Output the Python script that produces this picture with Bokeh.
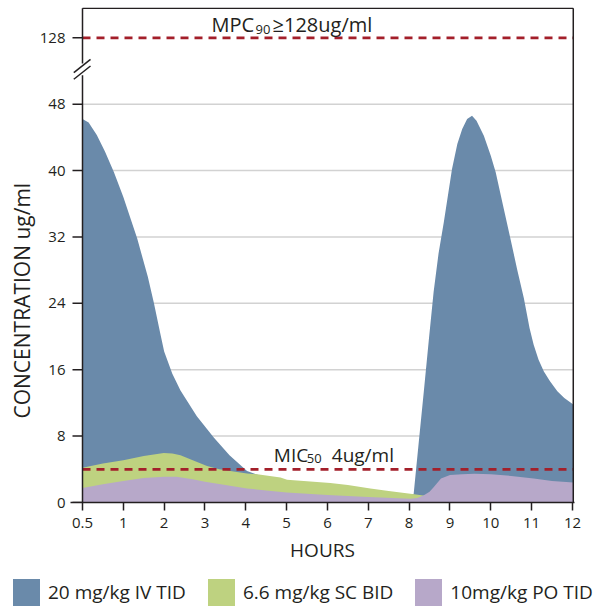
from bokeh.plotting import figure
from bokeh.layouts import column
from bokeh.models import Range1d, FixedTicker, Label, Arrow, Title, Div
from bokeh.embed import file_html
from bokeh.resources import INLINE

# ---------------- data (x in axis positions: 0 -> "0.5" h, 1..12 -> hours) ----------
x_tick_pos = [0, 1, 2, 3, 4, 5, 6, 7, 8, 9, 10, 11, 12]
x_tick_labels = ["0.5", "1", "2", "3", "4", "5", "6", "7", "8", "9", "10", "11", "12"]
y_tick_pos = [0, 8, 16, 24, 32, 40, 48, 56]
y_tick_labels = ["0", "8", "16", "24", "32", "40", "48", "128"]
y_grid_pos = [8, 16, 24, 32, 40, 48]

iv_t = [0.00, 0.15, 0.35, 0.55, 0.77, 1.00, 1.34, 1.60, 1.75, 1.90, 2.00, 2.20,
        2.40, 2.80, 3.22, 3.60, 4.03, 4.30, 4.60, 5.00, 6.00, 7.00, 8.00, 8.11,
        8.23, 8.36, 8.48, 8.60, 8.72, 8.85, 9.05, 9.18, 9.30, 9.42, 9.54, 9.65,
        9.83, 10.00, 10.12, 10.30, 10.48, 10.65, 10.81, 10.95, 11.05, 11.17,
        11.30, 11.45, 11.63, 11.80, 12.02]
iv_c = [46.2, 45.8, 44.3, 42.3, 39.8, 36.8, 31.8, 27.2, 24.0, 20.5, 18.2, 15.5,
        13.5, 10.4, 7.8, 5.7, 3.8, 3.3, 3.0, 2.6, 1.9, 1.3, 0.9, 1.0,
        7.0, 13.4, 19.5, 25.4, 30.0, 33.8, 40.2, 43.2, 45.0, 46.2, 46.6, 46.0,
        44.2, 41.8, 39.8, 35.8, 31.8, 28.0, 24.6, 21.0, 19.0, 17.2,
        15.8, 14.6, 13.4, 12.6, 11.8]

sc_t = [0.00, 0.50, 1.00, 1.50, 1.99, 2.20, 2.40, 2.70, 3.05, 3.35, 3.62, 4.03,
        4.28, 4.85, 5.01, 5.50, 6.07, 6.50, 7.05, 7.50, 8.03, 8.35, 9.00, 10.00,
        11.00, 12.02]
sc_c = [4.2, 4.7, 5.1, 5.6, 5.95, 5.9, 5.7, 5.1, 4.4, 4.0, 3.8, 3.5,
        3.4, 3.0, 2.75, 2.55, 2.35, 2.1, 1.7, 1.4, 1.05, 0.85, 0.6, 0.4,
        0.3, 0.25]

po_t = [0.00, 0.50, 1.00, 1.50, 2.00, 2.30, 2.70, 3.00, 3.50, 4.03, 4.50, 5.00,
        6.00, 7.00, 8.03, 8.20, 8.35, 8.50, 8.60, 8.78, 9.00, 9.30, 9.60, 10.00,
        10.50, 11.05, 11.50, 12.02]
po_c = [1.75, 2.2, 2.6, 2.95, 3.1, 3.1, 2.8, 2.5, 2.1, 1.7, 1.45, 1.2,
        0.9, 0.65, 0.45, 0.55, 0.85, 1.3, 1.85, 2.9, 3.3, 3.4, 3.45, 3.4,
        3.2, 2.9, 2.6, 2.4]

mic_level = 4
mpc_level = 56  # drawn at axis position labelled "128"

series_labels = ["20 mg/kg IV TID", "6.6 mg/kg SC BID", "10mg/kg PO TID"]
series_colors = ["#6A8AAA", "#BED280", "#B7A8C9"]

# ---------------- styles ----------------
FONT = "Open Sans"
INK = "#231F20"
RED = "#A31F2A"
X0, X1 = 0.0, 12.02      # data extent of the plotting area
Y0, Y1 = 0.0, 59.55
TICK_X = -0.245          # left end of the y-axis ticks (10 px outside)

p = figure(width=596, height=572,
           x_range=Range1d(-0.294, 12.05), y_range=Range1d(0, 59.65),
           output_backend="svg", toolbar_location=None,
           min_border_left=70, min_border_right=22,
           min_border_top=7, min_border_bottom=70)
p.background_fill_color = "white"
p.border_fill_color = "white"
p.outline_line_color = None
p.xgrid.visible = False
p.ygrid.visible = False

# horizontal grid lines (from the y axis to the right border)
p.segment(x0=X0, x1=X1, y0=y_grid_pos, y1=y_grid_pos,
          line_color="#D2D2D2", line_width=1.5)

p.varea(x=iv_t, y1=0, y2=iv_c, fill_color=series_colors[0])
p.varea(x=sc_t, y1=0, y2=sc_c, fill_color=series_colors[1])
p.varea(x=po_t, y1=0, y2=po_c, fill_color=series_colors[2])

# threshold lines
p.segment(x0=X0, x1=X1, y0=[mic_level, mpc_level], y1=[mic_level, mpc_level],
          line_color=RED, line_width=2.8, line_dash="8 6")

# frame: y axis line, top and right borders, y ticks
p.segment(x0=[X0, X0, X1], x1=[X0, X1, X1], y0=[Y0, Y1, Y0], y1=[Y1, Y1, Y1],
          line_color=INK, line_width=1.5)
p.segment(x0=TICK_X, x1=X0, y0=y_tick_pos, y1=y_tick_pos,
          line_color=INK, line_width=1.5)

# axes
for ax in (p.xaxis[0], p.yaxis[0]):
    ax.minor_tick_line_color = None
    ax.major_tick_in = 0
    ax.major_label_text_font = FONT
    ax.major_label_text_font_size = "15px"
    ax.major_label_text_color = INK
    ax.axis_label_text_font = FONT
    ax.axis_label_text_font_style = "normal"
    ax.axis_label_text_color = INK

xa = p.xaxis[0]
xa.axis_line_color = INK
xa.axis_line_width = 1.5
xa.major_tick_line_color = INK
xa.major_tick_line_width = 1.5
xa.ticker = FixedTicker(ticks=x_tick_pos)
xa.major_label_overrides = {k: v for k, v in zip(x_tick_pos, x_tick_labels)}
xa.major_tick_out = 8
xa.major_label_standoff = 7
xa.axis_label = "HOURS"
xa.axis_label_text_font_size = "19px"
xa.axis_label_standoff = 6

ya = p.yaxis[0]
ya.axis_line_color = None
ya.major_tick_line_color = None
ya.major_tick_out = 0
ya.ticker = FixedTicker(ticks=y_tick_pos)
ya.major_label_overrides = {k: v for k, v in zip(y_tick_pos, y_tick_labels)}
ya.major_label_standoff = 5

# y axis title, placed along the lower part of the axis like the original
p.add_layout(Title(text="CONCENTRATION ug/ml", align="left", offset=84,
                   standoff=2, text_font=FONT, text_font_size="21px",
                   text_font_style="normal", text_color=INK), "left")

# threshold labels (with subscripts)
def lab(x, y, text, size, xoff=0, yoff=7):
    p.add_layout(Label(x=x, y=y, text=text, x_offset=xoff, y_offset=yoff,
                       text_font=FONT, text_font_size=size, text_color=INK,
                       text_baseline="alphabetic", text_align="left"))

lab(3.16, 56.7, "MPC", "20px")
lab(3.16, 56.2, "90", "13px", 44)
lab(3.16, 56.7, "\u2265128ug/ml", "20px", 61)

lab(4.685, 4.85, "MIC", "19px")
lab(4.685, 4.45, "50", "13px", 33)
lab(4.685, 4.85, "4ug/ml", "19px", 58)

# axis break marks
p.add_layout(Arrow(end=None, x_start=0, y_start=51.5, x_end=0, y_end=52.9,
                   line_color="white", line_width=4))
p.add_layout(Arrow(end=None, x_start=-0.213, y_start=51.8, x_end=0.196, y_end=53.4,
                   line_color=INK, line_width=1.5))
p.add_layout(Arrow(end=None, x_start=-0.213, y_start=51.0, x_end=0.196, y_end=52.6,
                   line_color=INK, line_width=1.5))

# ---------------- legend strip below the chart ----------------
items_html = "".join(
    f'<div style="display:flex;align-items:center;margin-right:22px;">'
    f'<div style="width:27px;height:27px;background:{c};flex:none;"></div>'
    f'<span style="margin-left:8px;font-family:\'Open Sans\';font-size:19px;'
    f'color:{INK};white-space:nowrap;line-height:27px;">{l}</span></div>'
    for l, c in zip(series_labels, series_colors))
legend_html = (f'<div style="display:flex;align-items:center;padding-left:13px;'
               f'padding-top:7px;">{items_html}</div>')
legend_div = Div(text=legend_html, width=596, height=38, margin=0)

layout = column(p, legend_div, spacing=0)
open("out.html", "w").write(file_html(layout, INLINE))
